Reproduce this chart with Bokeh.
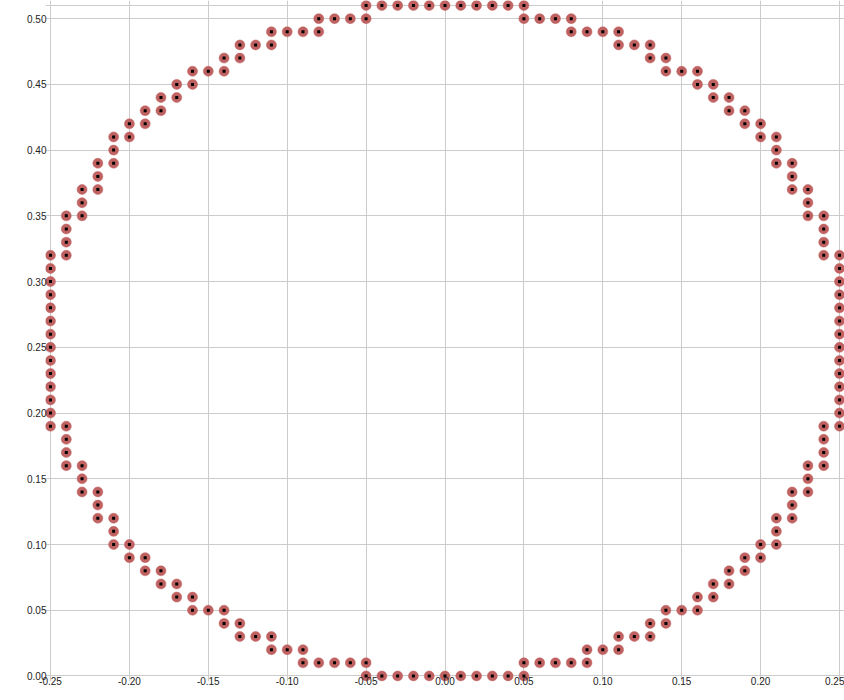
from bokeh.plotting import figure
from bokeh.models import FixedTicker, PrintfTickFormatter, Span, Range1d, ColumnDataSource
from bokeh.embed import file_html
from bokeh.resources import INLINE

# ---- data ----
row_y = [0.00, 0.01, 0.02, 0.03, 0.04, 0.05, 0.06, 0.07, 0.08, 0.09,
         0.10, 0.11, 0.12, 0.13, 0.14, 0.15, 0.16, 0.17, 0.18, 0.19,
         0.20, 0.21, 0.22, 0.23, 0.24, 0.25, 0.26, 0.27, 0.28, 0.29,
         0.30, 0.31, 0.32, 0.33, 0.34, 0.35, 0.36, 0.37, 0.38, 0.39,
         0.40, 0.41, 0.42, 0.43, 0.44, 0.45, 0.46, 0.47, 0.48, 0.49,
         0.50, 0.51]

row_x = [
    [-0.05, -0.04, -0.03, -0.02, -0.01, 0.00, 0.01, 0.02, 0.03, 0.04, 0.05],
    [-0.09, -0.08, -0.07, -0.06, -0.05, 0.05, 0.06, 0.07, 0.08, 0.09],
    [-0.11, -0.10, -0.09, 0.09, 0.10, 0.11],
    [-0.13, -0.12, -0.11, 0.11, 0.12, 0.13],
    [-0.14, -0.13, 0.13, 0.14],
    [-0.16, -0.15, -0.14, 0.14, 0.15, 0.16],
    [-0.17, -0.16, 0.16, 0.17],
    [-0.18, -0.17, 0.17, 0.18],
    [-0.19, -0.18, 0.18, 0.19],
    [-0.20, -0.19, 0.19, 0.20],
    [-0.21, -0.20, 0.20, 0.21],
    [-0.21, 0.21],
    [-0.22, -0.21, 0.21, 0.22],
    [-0.22, 0.22],
    [-0.23, -0.22, 0.22, 0.23],
    [-0.23, 0.23],
    [-0.24, -0.23, 0.23, 0.24],
    [-0.24, 0.24],
    [-0.24, 0.24],
    [-0.25, -0.24, 0.24, 0.25],
    [-0.25, 0.25],
    [-0.25, 0.25],
    [-0.25, 0.25],
    [-0.25, 0.25],
    [-0.25, 0.25],
    [-0.25, 0.25],
    [-0.25, 0.25],
    [-0.25, 0.25],
    [-0.25, 0.25],
    [-0.25, 0.25],
    [-0.25, 0.25],
    [-0.25, 0.25],
    [-0.25, -0.24, 0.24, 0.25],
    [-0.24, 0.24],
    [-0.24, 0.24],
    [-0.24, -0.23, 0.23, 0.24],
    [-0.23, 0.23],
    [-0.23, -0.22, 0.22, 0.23],
    [-0.22, 0.22],
    [-0.22, -0.21, 0.21, 0.22],
    [-0.21, 0.21],
    [-0.21, -0.20, 0.20, 0.21],
    [-0.20, -0.19, 0.19, 0.20],
    [-0.19, -0.18, 0.18, 0.19],
    [-0.18, -0.17, 0.17, 0.18],
    [-0.17, -0.16, 0.16, 0.17],
    [-0.16, -0.15, -0.14, 0.14, 0.15, 0.16],
    [-0.14, -0.13, 0.13, 0.14],
    [-0.13, -0.12, -0.11, 0.11, 0.12, 0.13],
    [-0.11, -0.10, -0.09, -0.08, 0.08, 0.09, 0.10, 0.11],
    [-0.08, -0.07, -0.06, -0.05, 0.05, 0.06, 0.07, 0.08],
    [-0.05, -0.04, -0.03, -0.02, -0.01, 0.00, 0.01, 0.02, 0.03, 0.04, 0.05],
]

x_ticks = [-0.25, -0.20, -0.15, -0.10, -0.05, 0.00, 0.05, 0.10, 0.15, 0.20, 0.25]
y_ticks = [0.00, 0.05, 0.10, 0.15, 0.20, 0.25, 0.30, 0.35, 0.40, 0.45, 0.50]
x_min, x_max = -0.25, 0.25
y_min, y_max = 0.00, 0.51

xs, ys = [], []
for yv, xl in zip(row_y, row_x):
    for xv in xl:
        xs.append(xv)
        ys.append(yv)
src = ColumnDataSource(dict(x=xs, y=ys))

pad_x = 0.00317
pad_top = 0.0038
pad_bot = 0.0042

p = figure(frame_width=799, frame_height=681,
           x_range=Range1d(x_min - pad_x, x_max + pad_x),
           y_range=Range1d(y_min - pad_bot, y_max + pad_top),
           output_backend="svg", toolbar_location=None,
           min_border_left=45, min_border_right=0,
           min_border_top=0, min_border_bottom=19)
p.outline_line_color = None
p.background_fill_color = "white"
p.border_fill_color = "white"

grid_color = "#cccccc"
for g in (p.xgrid, p.ygrid):
    g.grid_line_color = grid_color
    g.grid_line_width = 1
p.xgrid.ticker = FixedTicker(ticks=x_ticks)
p.ygrid.ticker = FixedTicker(ticks=y_ticks)

p.add_layout(Span(location=y_max, dimension="width", line_color=grid_color, line_width=1, level="underlay"))

for ax, ticks in ((p.xaxis[0], x_ticks), (p.yaxis[0], y_ticks)):
    ax.ticker = FixedTicker(ticks=ticks)
    ax.formatter = PrintfTickFormatter(format="%.2f")
    ax.axis_line_color = None
    ax.major_tick_line_color = None
    ax.minor_tick_line_color = None
    ax.major_tick_out = 0
    ax.major_tick_in = 0
    ax.major_label_text_font = "Liberation Sans"
    ax.major_label_text_font_size = "10px"
    ax.major_label_text_color = "#222222"
p.xaxis[0].major_label_standoff = -5
p.yaxis[0].major_label_standoff = -1

p.scatter("x", "y", source=src, marker="circle", size=10,
          fill_color="#C06262", line_color="#C06262", line_width=0.5)
p.scatter("x", "y", source=src, marker="square", size=3,
          fill_color="black", line_color=None)

open("out.html", "w").write(file_html(p, INLINE))
